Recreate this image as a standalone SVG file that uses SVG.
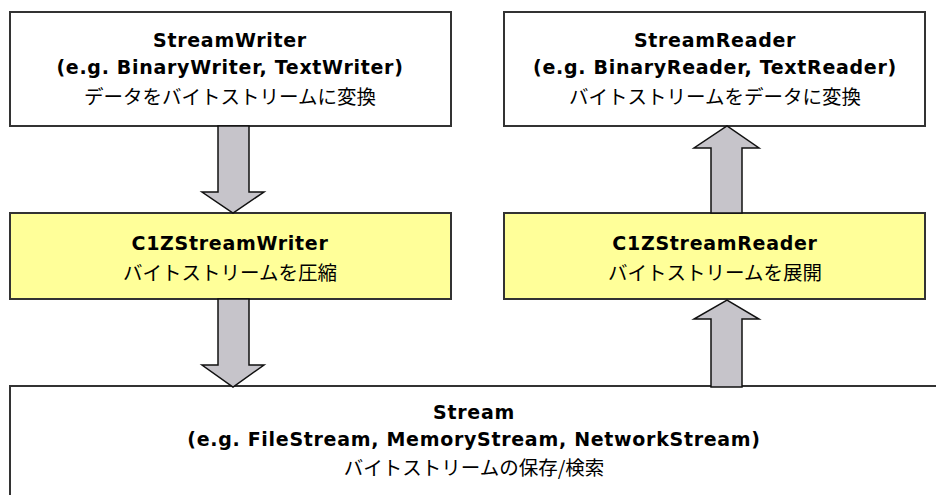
<svg xmlns="http://www.w3.org/2000/svg" width="936" height="495" viewBox="0 0 936 495">
  <style>
    .box { fill: #ffffff; stroke: #333333; stroke-width: 2; }
    .ybox { fill: #ffff99; stroke: #333333; stroke-width: 2; }
    .arrow { fill: #c6c4ca; stroke: #111111; stroke-width: 1.5; stroke-linejoin: miter; }
    .t1 { font-family: "DejaVu Sans", "Noto Sans", sans-serif; font-weight: bold; font-size: 19px; letter-spacing: 0.7px; fill: #000; text-anchor: middle; }
    .t2 { font-family: "Noto Sans CJK JP", "DejaVu Sans", sans-serif; font-size: 19.5px; fill: #000; text-anchor: middle; }
  </style>
  <rect width="936" height="495" fill="#ffffff"/>

  <g id="streamwriter">
    <rect class="box" x="10" y="12" width="441" height="114"/>
    <text class="t1" x="230" y="47">StreamWriter</text>
    <text class="t1" x="230" y="74">(e.g. BinaryWriter, TextWriter)</text>
    <text class="t2" x="230" y="104">データをバイトストリームに変換</text>
  </g>

  <g id="streamreader">
    <rect class="box" x="504" y="12" width="421" height="114"/>
    <text class="t1" x="715" y="47">StreamReader</text>
    <text class="t1" x="715" y="74">(e.g. BinaryReader, TextReader)</text>
    <text class="t2" x="715" y="104">バイトストリームをデータに変換</text>
  </g>

  <g id="c1zstreamwriter">
    <rect class="ybox" x="10" y="213" width="441" height="86"/>
    <text class="t1" x="230" y="250">C1ZStreamWriter</text>
    <text class="t2" x="230" y="280">バイトストリームを圧縮</text>
  </g>

  <g id="c1zstreamreader">
    <rect class="ybox" x="504" y="213" width="421" height="86"/>
    <text class="t1" x="715" y="250">C1ZStreamReader</text>
    <text class="t2" x="715" y="280">バイトストリームを展開</text>
  </g>

  <g id="stream">
    <rect class="box" x="10" y="386" width="940" height="120"/>
    <text class="t1" x="474" y="419">Stream</text>
    <text class="t1" x="474" y="446">(e.g. FileStream, MemoryStream, NetworkStream)</text>
    <text class="t2" x="474" y="475">バイトストリームの保存/検索</text>
  </g>

  <g id="connectors">
    <polygon class="arrow" points="218,126 249,126 249,192 264,192 233,213 202,192 218,192"/>
    <polygon class="arrow" points="218,299 249,299 249,365 264,365 233,387 202,365 218,365"/>
    <polygon class="arrow" points="711,213 742,213 742,148 759,148 727,126 694,148 711,148"/>
    <polygon class="arrow" points="711,387 742,387 742,319 759,319 727,300 694,319 711,319"/>
  </g>
</svg>
